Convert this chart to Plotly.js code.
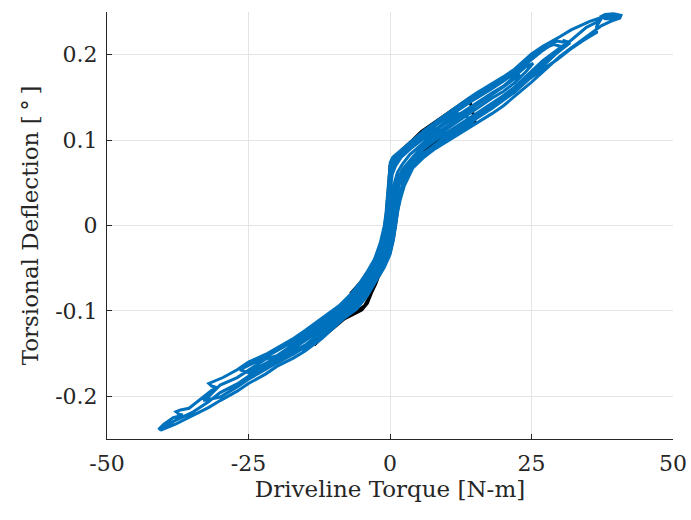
<!DOCTYPE html>
<html>
<head>
<meta charset="utf-8">
<script src="https://cdn.plot.ly/plotly-3.0.1.min.js"></script>
<style>html,body{margin:0;padding:0;background:#fff;}#plot{width:691px;height:520px;}</style>
</head>
<body>
<div id="plot"></div>
<script>
// Blue series (measured loops): driveline torque [N-m] and torsional deflection [deg]
var torqueBlue = [
-40.6,-38,-35,-32,-30,-27,-25,-22,-20,-17,-15,-12,-10,-8,-5.9,-4,-2.4,-1,0,0.6,1.0,1.4,1.8,2.5,4,6,8,10,12,15,18,20,22,25,27,30,32,35,37.4,39,40.6,
40.8,39.5,38,37.4,38,39.5,40.5,
38,35.3,32,30,27,25,22,20,18,15,12,10,8,6,4,2,0.5,0.05,-0.2,-0.4,-0.7,-1.0,-1.7,-2.7,-4,-5.2,-7,-9,-10,-12,-15,-17,-20,-22,-25,-27,-29.5,-31,-32,-31.5,-30.5,-31.5,-32.8,-35.5,-37,-37.8,-37.3,-36.6,-38.3,-40,-40.9,
-38,-35,-32,-30,-27,-25,-22,-20,-17,-15,-12,-10,-8,-6.5,-4.5,-3,-1.8,-0.7,0,0.4,0.8,1.2,2,3,4,6,8,10,12,15,18,20,22,25,27,30,32,34.7,36.5,37.4,
36.5,36.5,34,31.8,29.5,26.8,24.7,21.8,20,18,15,12,10,
8,6,4,2,1,0.4,0.1,-0.2,-0.5,-1,-2,-3.5,-5,-7,-9,-12,-15,-17,-20,-22,-25,-27,-30,-32,-33,
-30,-27,-25,-22,-20,-17,-15,-12,-10,-8,-6,-4.2,-2.7,-1.3,-0.3,0.4,0.8,1.2,1.6,2.3,3.5,5,7,10,12,15,18,20,22,25,27,29.5,31.8,30.5,31.2,
29.5,27,25,22,20,18,15,12,10,8,6,4,2,0.8,0.2,-0.1,-0.3,-0.6,-0.9,-1.5,-2.5,-3.8,-5,-7,-9,-12,-15,-17,-20,-22,-25,-26.5,
-25,-22,-20,-17,-15,-12,-10,-8,-6.8,-5,-3.4,-2.2,-1.1,-0.4,0.1,0.5,0.9,1.6,2.5,4,6,8,10,12,15,18,20,22,24,25.3,
24,22,20,18,15,12,10,8,6,4,2,1,0.4,0.0,-0.3,-0.6,-1.2,-2.2,-3.5,-5,-7,-9,-12,-15,-17.5,
-15,-12,-10,-8,-6.2,-4.3,-2.8,-1.4,-0.4,0.3,0.7,1.1,1.6,2.4,3.5,5,7,10,12,14,15.5,
14,12,10,8,6,4,2,0.8,0.2,-0.1,-0.4,-0.8,-1.6,-2.8,-4.5,-6.5,-8,-10,-12,-13.5,
-12,-10,-8,-6.3,-4.6,-3.1,-1.6,-0.5,0.2,0.6,1.0,1.5,2.3,3.5,5,7,10,12,15,18,20,22,25,27,29,30.5,
29,27,25,22,20,18,15,12,10,8,6,4,2,0.7,0.1,-0.15,-0.35,-0.65,-1.1,-1.8,-2.9,-4.3,-5.7,-7.5,-9.5,-12,-15,-17,-20,-22,-23.5,
-22,-20,-17,-15,-12,-10,-8,-6.5,-5,-3.6,-2.4,-1.3,-0.6,-0.1,0.3,0.7,1.3,2.2,3.5,5,7,10,12,15,18,20,22,23
];
var deflBlue = [
-0.240,-0.233,-0.223,-0.213,-0.205,-0.194,-0.185,-0.174,-0.165,-0.155,-0.147,-0.132,-0.120,-0.108,-0.098,-0.082,-0.064,-0.049,-0.034,-0.017,0.000,0.018,0.030,0.046,0.067,0.080,0.090,0.098,0.106,0.118,0.131,0.140,0.151,0.168,0.180,0.198,0.208,0.223,0.234,0.239,0.243,
0.246,0.248,0.247,0.245,0.242,0.242,0.244,
0.245,0.239,0.229,0.221,0.210,0.201,0.183,0.174,0.166,0.154,0.140,0.131,0.121,0.111,0.100,0.089,0.080,0.074,0.055,0.035,0.015,0.000,-0.020,-0.039,-0.054,-0.066,-0.081,-0.094,-0.099,-0.109,-0.123,-0.132,-0.144,-0.151,-0.160,-0.169,-0.178,-0.182,-0.185,-0.188,-0.190,-0.193,-0.200,-0.214,-0.216,-0.218,-0.221,-0.222,-0.225,-0.233,-0.239,
-0.2285,-0.2192,-0.206,-0.1956,-0.1855,-0.1765,-0.1648,-0.1572,-0.1469,-0.1401,-0.124,-0.1127,-0.1024,-0.094,-0.079,-0.063,-0.048,-0.030,-0.012,0.005,0.025,0.042,0.056,0.068,0.077,0.090,0.100,0.108,0.117,0.130,0.143,0.152,0.162,0.180,0.193,0.208,0.217,0.232,0.238,0.243,
0.233,0.226,0.216,0.206,0.194,0.182,0.172,0.160,0.152,0.140,0.126,0.115,0.108,
0.110,0.102,0.092,0.080,0.070,0.060,0.045,0.025,0.005,-0.015,-0.035,-0.052,-0.066,-0.084,-0.100,-0.116,-0.1318,-0.1391,-0.1524,-0.1566,-0.1690,-0.1781,-0.1868,-0.2001,-0.205,
-0.2008,-0.1890,-0.1800,-0.1686,-0.1608,-0.1504,-0.1422,-0.1274,-0.1158,-0.1048,-0.096,-0.081,-0.064,-0.049,-0.033,-0.015,0.003,0.022,0.035,0.050,0.066,0.078,0.090,0.103,0.111,0.124,0.137,0.146,0.156,0.174,0.186,0.202,0.214,0.217,0.214,
0.216,0.205,0.194,0.178,0.169,0.160,0.148,0.135,0.126,0.117,0.107,0.097,0.086,0.078,0.072,0.050,0.030,0.010,-0.005,-0.022,-0.040,-0.056,-0.068,-0.083,-0.097,-0.1127,-0.1251,-0.1355,-0.1472,-0.1543,-0.1638,-0.169,
-0.1725,-0.162,-0.1545,-0.1435,-0.135,-0.1205,-0.1095,-0.100,-0.091,-0.078,-0.062,-0.048,-0.030,-0.012,0.010,0.030,0.045,0.058,0.068,0.080,0.094,0.104,0.113,0.122,0.136,0.149,0.157,0.167,0.180,0.190,
0.186,0.174,0.163,0.155,0.142,0.129,0.120,0.112,0.103,0.093,0.082,0.075,0.065,0.045,0.020,0.000,-0.020,-0.038,-0.056,-0.071,-0.088,-0.101,-0.118,-0.1322,-0.143,
-0.1449,-0.1286,-0.1169,-0.1056,-0.097,-0.082,-0.064,-0.048,-0.031,-0.013,0.005,0.022,0.036,0.051,0.064,0.075,0.086,0.100,0.109,0.118,0.127,
0.126,0.131,0.122,0.113,0.104,0.094,0.083,0.076,0.068,0.040,0.015,-0.005,-0.025,-0.045,-0.062,-0.080,-0.096,-0.1043,-0.1148,-0.122,
-0.1251,-0.1137,-0.1032,-0.094,-0.080,-0.063,-0.047,-0.028,-0.008,0.012,0.030,0.046,0.058,0.070,0.080,0.090,0.105,0.113,0.128,0.141,0.150,0.160,0.176,0.189,0.200,0.209,
0.212,0.207,0.198,0.181,0.172,0.164,0.152,0.138,0.129,0.119,0.109,0.099,0.087,0.079,0.073,0.052,0.032,0.012,-0.006,-0.024,-0.042,-0.058,-0.071,-0.085,-0.097,-0.1102,-0.1242,-0.1332,-0.1446,-0.1521,-0.156,
-0.1566,-0.1524,-0.1391,-0.1282,-0.1159,-0.1057,-0.0968,-0.087,-0.075,-0.060,-0.045,-0.028,-0.010,0.012,0.032,0.048,0.062,0.072,0.083,0.092,0.103,0.116,0.125,0.140,0.153,0.162,0.172,0.177
];
// Black series (mostly hidden under the blue loops)
var torqueBlack = [
-13.4,-12,-10,-8,-6.5,-5,-4,-3.3,-2.5,-1.2,0,0.6,1,1.4,1.8,2.5,4,6,8,12,15,
14,12,10,8,6.5,5.5,4,2,0.8,0.3,0,-0.2,-0.4,-0.7,-1.1,-1.8,-2.8,-4.2,-5.6,-7.5,-9.5,-12,-13.4,
-12,-10,-8,-6,-4.5,-3.5,-2.5,-1.2,0,0.5,0.9,1.2,1.6,2.2,3,5,8,10,
8,6,3,1.5,0.5,0.2,0,-0.2,-0.6,-1.5,-3,-5,-7
];
var deflBlack = [
-0.140,-0.131,-0.120,-0.109,-0.104,-0.099,-0.091,-0.080,-0.066,-0.050,-0.032,-0.015,0.003,0.020,0.033,0.050,0.070,0.084,0.094,0.110,0.122,
0.149,0.140,0.131,0.121,0.115,0.110,0.100,0.088,0.079,0.074,0.070,0.050,0.030,0.010,-0.008,-0.026,-0.044,-0.060,-0.073,-0.087,-0.099,-0.112,-0.120,
-0.128,-0.117,-0.107,-0.101,-0.094,-0.082,-0.068,-0.045,-0.022,-0.002,0.018,0.038,0.054,0.065,0.071,0.083,0.098,0.107,
0.113,0.106,0.092,0.083,0.074,0.068,0.058,0.040,0.010,-0.020,-0.045,-0.065,-0.080
];
var xTicks = [-50,-25,0,25,50];
var xTickText = ['-50','-25','0','25','50'];
var yTicks = [-0.2,-0.1,0,0.1,0.2];
var yTickText = ['-0.2','-0.1','0','0.1','0.2'];

var fontFam = '"DejaVu Serif", "Liberation Serif", serif';
var traces = [
  {x: torqueBlack, y: deflBlack, mode: 'lines', line: {color: '#000000', width: 3}, showlegend: false, hoverinfo: 'skip'},
  {x: torqueBlue, y: deflBlue, mode: 'lines', line: {color: '#0072BD', width: 3}, showlegend: false, hoverinfo: 'skip'}
];
var axisCommon = {
  showline: true, linecolor: '#262626', linewidth: 1, mirror: false,
  ticks: 'inside', ticklen: 5, tickwidth: 1, tickcolor: '#262626',
  showgrid: true, gridcolor: '#e4e4e4', gridwidth: 1, zeroline: false,
  tickfont: {family: fontFam, size: 22, color: '#262626'}
};
var layout = {
  width: 691, height: 520,
  margin: {l: 107, r: 18, t: 12, b: 81},
  paper_bgcolor: '#ffffff', plot_bgcolor: '#ffffff',
  showlegend: false,
  xaxis: Object.assign({}, axisCommon, {
    range: [-50, 50], tickmode: 'array', tickvals: xTicks, ticktext: xTickText,
    ticklabelstandoff: 5,
    title: {text: 'Driveline Torque [N-m]', font: {family: fontFam, size: 23, color: '#262626'}, standoff: 5}
  }),
  yaxis: Object.assign({}, axisCommon, {
    range: [-0.25, 0.25], tickmode: 'array', tickvals: yTicks, ticktext: yTickText,
    ticklabelstandoff: 4,
    title: {text: 'Torsional Deflection [\u2009°\u2009]', font: {family: fontFam, size: 23, color: '#262626'}, standoff: 10}
  })
};
Plotly.newPlot('plot', traces, layout, {staticPlot: true, displayModeBar: false});
</script>
</body>
</html>
